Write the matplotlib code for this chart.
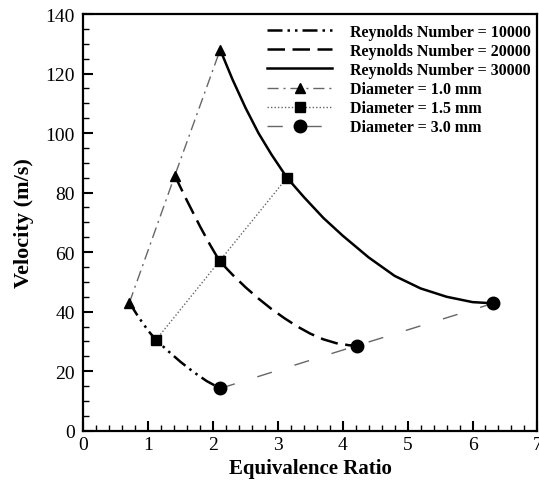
import numpy as np
import matplotlib.pyplot as plt
from matplotlib.ticker import MultipleLocator

plt.rcParams['font.family'] = ['Liberation Serif', 'DejaVu Serif']

# Reynolds number curves
re10_x = [0.71, 0.85, 1.00, 1.12, 1.30, 1.50, 1.70, 1.90, 2.11]
re10_v = [43.0, 38.2, 33.6, 30.5, 26.9, 23.1, 19.7, 16.7, 14.2]

re20_x = [1.41, 1.60, 1.80, 1.95, 2.10, 2.30, 2.50, 2.70, 2.90, 3.10, 3.30,
          3.50, 3.70, 3.90, 4.10, 4.22]
re20_v = [85.7, 77.2, 68.6, 62.6, 57.0, 52.4, 48.2, 44.4, 40.9, 37.8, 35.0,
          32.6, 30.7, 29.4, 28.7, 28.6]

re30_x = [2.11, 2.30, 2.50, 2.70, 2.90, 3.14, 3.40, 3.70, 4.00, 4.40, 4.80,
          5.20, 5.60, 6.00, 6.32]
re30_v = [128.0, 118.0, 108.5, 100.0, 92.8, 85.0, 78.5, 71.5, 65.5, 58.2, 52.0,
          47.8, 45.0, 43.2, 42.8]

# Diameter lines (one point per Reynolds number)
d10_x = [0.71, 1.41, 2.11]
d10_v = [43.0, 85.7, 128.0]
d15_x = [1.12, 2.10, 3.14]
d15_v = [30.5, 57.0, 85.0]
d30_x = [2.11, 4.22, 6.32]
d30_v = [14.2, 28.6, 42.8]

fig = plt.figure(figsize=(5.39, 4.81), dpi=100)
ax = fig.add_axes([0.1546, 0.1025, 0.8424, 0.8663])

ax.plot(re10_x, re10_v, color='black', lw=1.8, dashes=(6, 2, 1, 2, 1, 2),
        label='Reynolds Number = 10000')
ax.plot(re20_x, re20_v, color='black', lw=1.8, dashes=(7, 3),
        label='Reynolds Number = 20000')
ax.plot(re30_x, re30_v, color='black', lw=1.8, label='Reynolds Number = 30000')

gray = '#666666'
ax.plot(d10_x, d10_v, color=gray, lw=1, dashes=(8, 3.5, 1.5, 3.5),
        marker='^', ms=7, mfc='black', mec='black', label='Diameter = 1.0 mm')
ax.plot(d15_x, d15_v, color=gray, lw=1, dashes=(1, 1.5),
        marker='s', ms=6.5, mfc='black', mec='black', label='Diameter = 1.5 mm')
ax.plot(d30_x, d30_v, color=gray, lw=1, dashes=(11, 17),
        marker='o', ms=9, mfc='black', mec='black', label='Diameter = 3.0 mm')

ax.set_xlim(0, 7)
ax.set_ylim(0, 140)
ax.xaxis.set_major_locator(MultipleLocator(1))
ax.xaxis.set_minor_locator(MultipleLocator(0.2))
ax.yaxis.set_major_locator(MultipleLocator(20))
ax.yaxis.set_minor_locator(MultipleLocator(5))
ax.tick_params(which='both', direction='in', top=False, right=False, labelsize=14)
ax.tick_params(which='major', length=7, width=1.5)
ax.tick_params(which='minor', length=4, width=1)
ax.tick_params(axis='y', pad=6)
for s in ax.spines.values():
    s.set_linewidth(1.6)

ax.set_xlabel('Equivalence Ratio', fontsize=15, fontweight='bold', labelpad=4)
ax.set_ylabel('Velocity (m/s)', fontsize=16, fontweight='bold', labelpad=8)

leg = ax.legend(loc='upper right', bbox_to_anchor=(0.989, 0.981),
                prop={'weight': 'bold', 'size': 11.5},
                handlelength=4.1, handletextpad=1.1, frameon=False,
                borderpad=0.1, labelspacing=0.2, borderaxespad=0)

fig.savefig('out.png', dpi=100)
